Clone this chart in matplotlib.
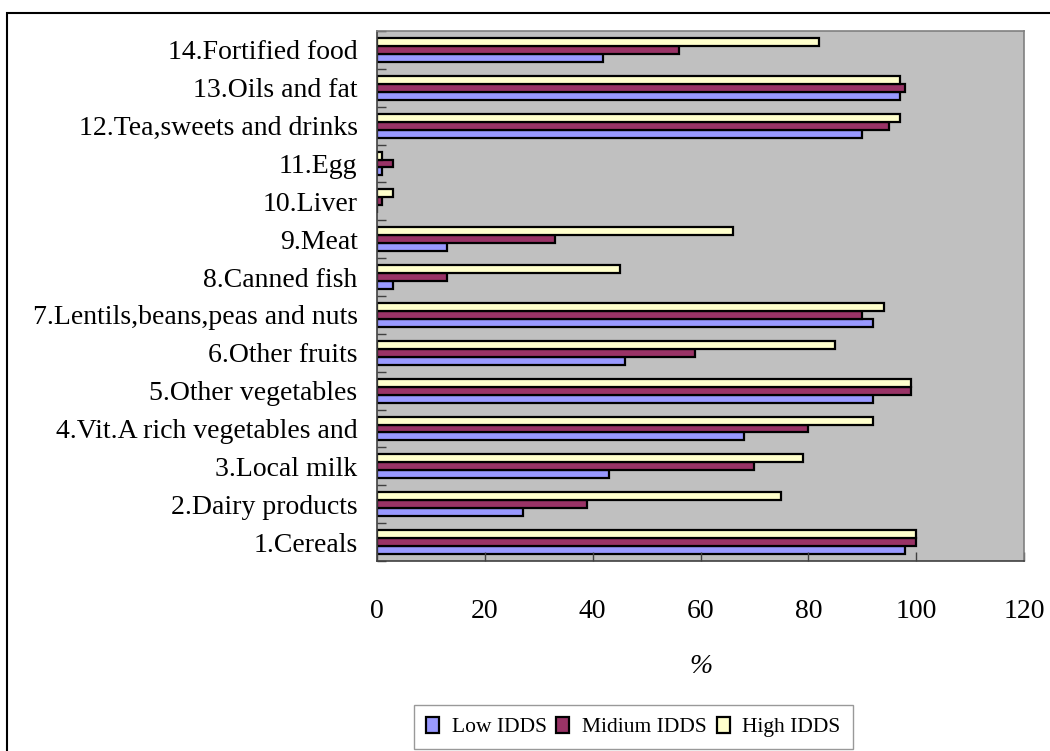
import matplotlib
matplotlib.use("Agg")
import matplotlib.pyplot as plt
from matplotlib.patches import Rectangle
import numpy as np

plt.rcParams["font.family"] = ["Liberation Serif", "DejaVu Serif"]

categories = [
    "1.Cereals",
    "2.Dairy products",
    "3.Local milk",
    "4.Vit.A rich vegetables and",
    "5.Other vegetables",
    "6.Other fruits",
    "7.Lentils,beans,peas and nuts",
    "8.Canned fish",
    "9.Meat",
    "10.Liver",
    "11.Egg",
    "12.Tea,sweets and drinks",
    "13.Oils and fat",
    "14.Fortified food",
]
low_idds = [98, 27, 43, 68, 92, 46, 92, 3, 13, 0, 1, 90, 97, 42]
midium_idds = [100, 39, 70, 80, 99, 59, 90, 13, 33, 1, 3, 95, 98, 56]
high_idds = [100, 75, 79, 92, 99, 85, 94, 45, 66, 3, 1, 97, 97, 82]
series_names = ["Low IDDS", "Midium IDDS", "High IDDS"]
x_ticks = [0, 20, 40, 60, 80, 100, 120]

fig = plt.figure(figsize=(10.5, 7.51), dpi=100)
ax = fig.add_axes([377 / 1050, 1 - 561 / 751, 647 / 1050, 530 / 751])
ax.set_facecolor("#C0C0C0")

y = np.arange(len(categories))
h = 0.21
colors = ["#9999FF", "#993366", "#FFFFCC"]
for offset, values, color, name in zip((-h, 0, h), (low_idds, midium_idds, high_idds), colors, series_names):
    ax.barh(y + offset, values, height=h, color=color, edgecolor="black", linewidth=1.6, label=name)

ax.set_xlim(0, 120)
ax.set_ylim(-0.5, len(categories) - 0.5)
ax.set_xticks(x_ticks)
ax.set_xticklabels([str(t) for t in x_ticks], fontsize=20)
ax.set_yticks(y)
ax.set_yticklabels(categories, fontsize=20)
ax.set_yticks(np.arange(len(categories) + 1) - 0.5, minor=True)
ax.tick_params(axis="y", which="major", length=0, pad=14)
ax.tick_params(axis="y", which="minor", direction="in", length=6.5, color="#404040", width=1)
ax.tick_params(axis="x", direction="in", length=6.5, color="#404040", width=1, pad=27)
ax.set_xlabel("%", fontsize=20, style="italic", labelpad=22)

for side, spine in ax.spines.items():
    spine.set_color("#808080" if side in ("top", "right") else "#404040")
    spine.set_linewidth(1.2)

leg = fig.legend(
    loc="upper left",
    bbox_to_anchor=(414 / 1050, 1 - 705 / 751),
    ncol=3,
    fontsize=15.5,
    frameon=True,
    fancybox=False,
    edgecolor="#808080",
    handlelength=0.6,
    handleheight=0.75,
    handletextpad=0.6,
    columnspacing=0.45,
    borderpad=0.55,
    borderaxespad=0,
)
leg.get_frame().set_linewidth(1.0)

fig.patches.append(
    Rectangle((7 / 1050, -0.2), 1.5, 1.2 - 13 / 751, transform=fig.transFigure,
              fill=False, edgecolor="black", linewidth=1.5)
)

fig.savefig("out.png", dpi=100)
